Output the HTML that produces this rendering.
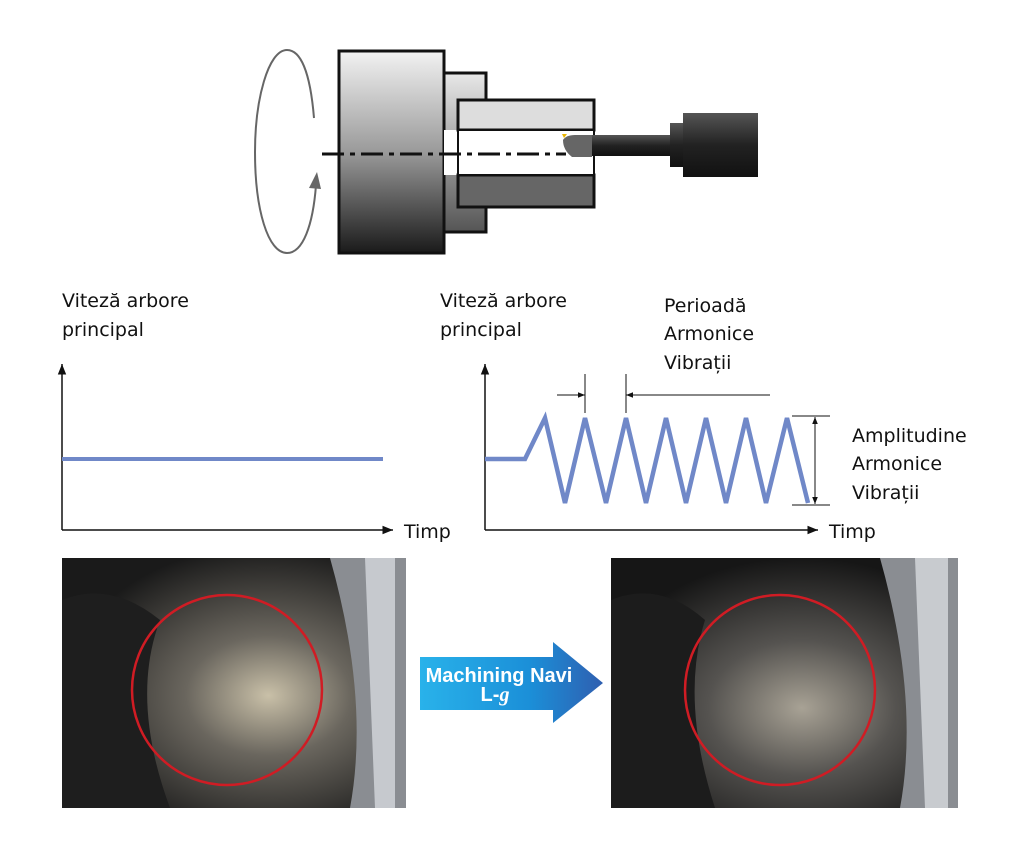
<!DOCTYPE html>
<html><head><meta charset="utf-8"><style>
body{margin:0;background:#fff;}
svg{display:block}
text{font-family:"DejaVu Sans","Liberation Sans",sans-serif;font-size:19px;fill:#111}
</style></head><body>
<svg width="1024" height="846" viewBox="0 0 1024 846" xmlns="http://www.w3.org/2000/svg">
<defs>
<linearGradient id="g1" x1="0" y1="0" x2="0" y2="1"><stop offset="0" stop-color="#f2f2f2"/><stop offset="0.5" stop-color="#9a9a9a"/><stop offset="1" stop-color="#1a1a1a"/></linearGradient>
<linearGradient id="g2" x1="0" y1="0" x2="0" y2="1"><stop offset="0" stop-color="#e8e8e8"/><stop offset="1" stop-color="#555"/></linearGradient>
<linearGradient id="g3" x1="0" y1="0" x2="0" y2="1"><stop offset="0" stop-color="#555"/><stop offset="0.5" stop-color="#222"/><stop offset="1" stop-color="#111"/></linearGradient>
<linearGradient id="ga" x1="0" y1="0" x2="1" y2="0"><stop offset="0" stop-color="#29b2ea"/><stop offset="0.6" stop-color="#1b8fd8"/><stop offset="1" stop-color="#2f5fb0"/></linearGradient>
<radialGradient id="p1" cx="0.6" cy="0.55" r="0.6"><stop offset="0" stop-color="#c9c0a8"/><stop offset="0.4" stop-color="#6a665e"/><stop offset="1" stop-color="#1a1a1a"/></radialGradient>
<radialGradient id="p2" cx="0.55" cy="0.6" r="0.6"><stop offset="0" stop-color="#a8a295"/><stop offset="0.45" stop-color="#555350"/><stop offset="1" stop-color="#161616"/></radialGradient>
<marker id="ar" viewBox="0 0 10 10" refX="10" refY="5" markerWidth="7" markerHeight="7" orient="auto-start-reverse"><path d="M0,1 L10,5 L0,9z" fill="#111"/></marker>
</defs>
<path d="M314,118 C310,70 300,50 287,50 C268,50 255,100 255,152 C255,210 268,253 287,253 C303,253 313,225 316,185" fill="none" stroke="#666" stroke-width="2"/>
<path d="M309,188 L317,172 L321,189z" fill="#666"/>
<rect x="339" y="51" width="105" height="202" fill="url(#g1)" stroke="#111" stroke-width="3"/>
<rect x="444" y="73" width="42" height="159" fill="url(#g2)" stroke="#111" stroke-width="3"/>
<rect x="444" y="130" width="14" height="45" fill="#fff"/>
<rect x="458" y="100" width="136" height="30" fill="#ddd" stroke="#111" stroke-width="3"/>
<rect x="458" y="175" width="136" height="32" fill="#666" stroke="#111" stroke-width="3"/>
<rect x="458" y="130" width="136" height="45" fill="#fff" stroke="#111" stroke-width="2"/>
<rect x="580" y="135" width="92" height="21" fill="url(#g3)"/>
<path d="M563,140 Q566,135 575,135 L592,135 L592,157 L572,157 Q563,150 563,140z" fill="#666"/>
<path d="M562,134 l5,0 l-3,4z" fill="#e8b400"/>
<rect x="670" y="123" width="16" height="44" fill="url(#g3)"/>
<rect x="683" y="113" width="75" height="64" fill="url(#g3)"/>
<line x1="322" y1="154" x2="566" y2="154" stroke="#111" stroke-width="3" stroke-dasharray="22,6,5,6"/>
<text x="62" y="307">Viteză arbore</text><text x="62" y="336">principal</text>
<line x1="62" y1="530" x2="62" y2="364" stroke="#111" stroke-width="1.5" marker-end="url(#ar)"/>
<line x1="62" y1="530" x2="393" y2="530" stroke="#111" stroke-width="1.5" marker-end="url(#ar)"/>
<line x1="62" y1="459" x2="383" y2="459" stroke="#7088c8" stroke-width="4"/>
<text x="404" y="538">Timp</text>
<text x="440" y="307">Viteză arbore</text><text x="440" y="336">principal</text>
<text x="664" y="312">Perioadă</text><text x="664" y="340">Armonice</text><text x="664" y="369">Vibrații</text>
<line x1="485" y1="530" x2="485" y2="364" stroke="#111" stroke-width="1.5" marker-end="url(#ar)"/>
<line x1="485" y1="530" x2="818" y2="530" stroke="#111" stroke-width="1.5" marker-end="url(#ar)"/>
<text x="829" y="538">Timp</text>
<polyline points="485,459 525,459 545,418 565,503 585,418 606,503 626,418 646,503 666,418 686,503 706,418 726,503 746,418 766,503 787,418 808,503" fill="none" stroke="#7088c8" stroke-width="4.5" stroke-linejoin="miter"/>
<line x1="585" y1="374" x2="585" y2="413" stroke="#111"/>
<line x1="626" y1="374" x2="626" y2="413" stroke="#111"/>
<line x1="557" y1="395" x2="585" y2="395" stroke="#111" marker-end="url(#ar)"/>
<line x1="770" y1="395" x2="626" y2="395" stroke="#111" marker-end="url(#ar)"/>
<line x1="792" y1="416" x2="830" y2="416" stroke="#111"/>
<line x1="792" y1="505" x2="830" y2="505" stroke="#111"/>
<line x1="815" y1="460" x2="815" y2="417" stroke="#111" marker-end="url(#ar)"/>
<line x1="815" y1="460" x2="815" y2="504" stroke="#111" marker-end="url(#ar)"/>
<text x="852" y="442">Amplitudine</text><text x="852" y="470">Armonice</text><text x="852" y="499">Vibrații</text>
<rect x="62" y="558" width="344" height="250" fill="url(#p1)"/>
<path d="M62,600 Q110,580 160,620 Q130,700 170,808 L62,808z" fill="#1e1e1e"/>
<path d="M330,558 L406,558 L406,808 L350,808 Q370,700 330,558z" fill="#8a8d92"/>
<path d="M365,558 L395,558 L395,808 L375,808z" fill="#dfe3e8" opacity="0.7"/>
<circle cx="227" cy="690" r="95" fill="none" stroke="#d01c24" stroke-width="2.5"/>
<rect x="611" y="558" width="347" height="250" fill="url(#p2)"/>
<path d="M611,600 Q660,580 705,620 Q680,700 715,808 L611,808z" fill="#1c1c1c"/>
<path d="M880,558 L958,558 L958,808 L900,808 Q920,700 880,558z" fill="#8a8d92"/>
<path d="M915,558 L948,558 L948,808 L925,808z" fill="#e2e5ea" opacity="0.7"/>
<circle cx="780" cy="690" r="95" fill="none" stroke="#d01c24" stroke-width="2.5"/>
<path d="M420,657 L553,657 L553,642 L603,683 L553,723 L553,710 L420,710z" fill="url(#ga)"/>
<text x="499" y="682" text-anchor="middle" style="font-family:'Liberation Sans',sans-serif;font-weight:bold;font-size:20px;fill:#fff">Machining Navi</text>
<text x="495" y="701" text-anchor="middle" style="font-family:'Liberation Sans',sans-serif;font-weight:bold;font-size:20px;fill:#fff">L-<tspan style="font-family:'Liberation Serif',serif;font-style:italic">g</tspan></text>
</svg>
</body></html>
